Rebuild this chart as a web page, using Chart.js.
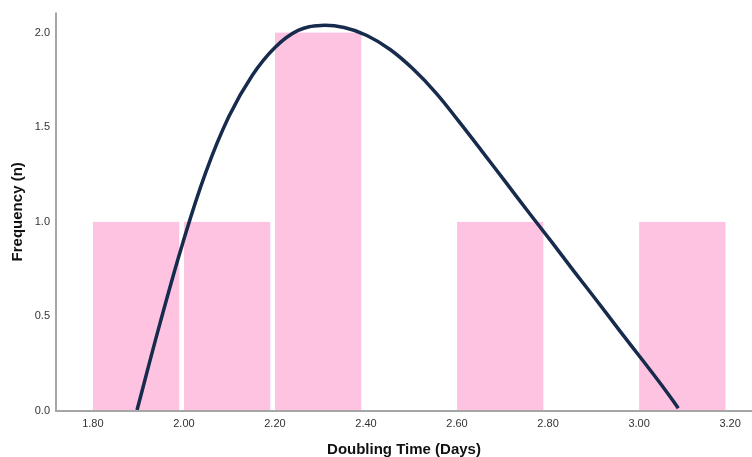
<!DOCTYPE html>
<html>
<head>
<meta charset="utf-8">
<style>
  html, body { margin: 0; padding: 0; background: #ffffff; }
  #wrap { width: 752px; height: 457px; position: relative; }
</style>
<script src="https://cdn.jsdelivr.net/npm/chart.js@4/dist/chart.umd.min.js"></script>
</head>
<body>
<div id="wrap"><canvas id="c" width="752" height="457"></canvas></div>
<script>
// Histogram bins (centres) and counts
const binCenters = [1.9, 2.1, 2.3, 2.5, 2.7, 2.9, 3.1];
const binCounts  = [1, 1, 2, 0, 1, 0, 1];

// Fitted curve
const curveX = [1.897, 1.947, 1.998, 2.048, 2.099, 2.150, 2.200, 2.251, 2.301, 2.352, 2.402, 2.453, 2.503, 2.554, 2.604, 2.655, 2.706, 2.756, 2.807, 2.857, 2.908, 2.958, 3.009, 3.059, 3.086];
const curveY = [0.005, 0.459, 0.892, 1.261, 1.557, 1.773, 1.921, 2.011, 2.037, 2.026, 1.984, 1.910, 1.808, 1.680, 1.530, 1.372, 1.212, 1.054, 0.896, 0.738, 0.580, 0.422, 0.264, 0.106, 0.015];

// Tick labels
const xTicks = [1.80, 2.00, 2.20, 2.40, 2.60, 2.80, 3.00, 3.20];
const yTicks = [0.0, 0.5, 1.0, 1.5, 2.0];

const barData = binCenters
  .map((x, i) => ({ x: x, y: binCounts[i] }))
  .filter(d => d.y > 0);
const lineData = curveX.map((x, i) => ({ x: x, y: curveY[i] }));

const tickFont = { family: 'Liberation Sans, Arial, sans-serif', size: 11 };
const titleFont = { family: 'Liberation Sans, Arial, sans-serif', size: 15, weight: 'bold', lineHeight: 1.0 };

// Draw axis lines above the bars (like the reference)
const axisLines = {
  id: 'axisLines',
  afterDatasetsDraw(chart) {
    const { ctx, chartArea } = chart;
    ctx.save();
    ctx.strokeStyle = '#a6a6a6';
    ctx.lineWidth = 2;
    ctx.beginPath();
    ctx.moveTo(chartArea.left, chartArea.top);
    ctx.lineTo(chartArea.left, chartArea.bottom + 1);
    ctx.moveTo(chartArea.left, chartArea.bottom);
    ctx.lineTo(chartArea.right, chartArea.bottom);
    ctx.stroke();
    ctx.restore();
  }
};

new Chart(document.getElementById('c'), {
  data: {
    datasets: [
      {
        type: 'line',
        data: lineData,
        borderColor: '#172b4d',
        borderWidth: 3.5,
        pointRadius: 0,
        fill: false,
        tension: 0.4,
        order: 0
      },
      {
        type: 'bar',
        data: barData,
        backgroundColor: '#fec3e1',
        borderColor: '#ffffff',
        borderWidth: { top: 0, right: 5, bottom: 0, left: 0 },
        borderSkipped: false,
        barPercentage: 1,
        categoryPercentage: 1,
        order: 1
      }
    ]
  },
  plugins: [axisLines],
  options: {
    responsive: false,
    animation: false,
    layout: { padding: { top: 12, right: 0, left: 0, bottom: 0 } },
    plugins: { legend: { display: false }, tooltip: { enabled: false } },
    scales: {
      x: {
        type: 'linear',
        offset: false,
        min: 1.719,
        max: 3.248,
        grid: { display: false, drawTicks: false, offset: false },
        border: { display: false },
        ticks: {
          font: tickFont,
          color: '#333333',
          padding: 6,
          maxRotation: 0,
          autoSkip: false,
          callback: (v) => Number(v).toFixed(2)
        },
        afterBuildTicks: (scale) => { scale.ticks = xTicks.map(v => ({ value: v })); },
        afterFit: (scale) => { scale.height = 46; },
        title: {
          display: true,
          text: 'Doubling Time (Days)',
          font: titleFont,
          color: '#111111',
          padding: { top: 0, bottom: 0 }
        }
      },
      y: {
        type: 'linear',
        min: 0,
        max: 2.105,
        grid: { display: false, drawTicks: false },
        border: { display: false },
        ticks: {
          font: tickFont,
          color: '#333333',
          padding: 6,
          autoSkip: false,
          callback: (v) => Number(v).toFixed(1)
        },
        afterBuildTicks: (scale) => { scale.ticks = yTicks.map(v => ({ value: v })); },
        afterFit: (scale) => { scale.width = 56; },
        title: {
          display: true,
          text: 'Frequency (n)',
          font: titleFont,
          color: '#111111',
          padding: { top: 10, bottom: 0 }
        }
      }
    }
  }
});
</script>
</body>
</html>
